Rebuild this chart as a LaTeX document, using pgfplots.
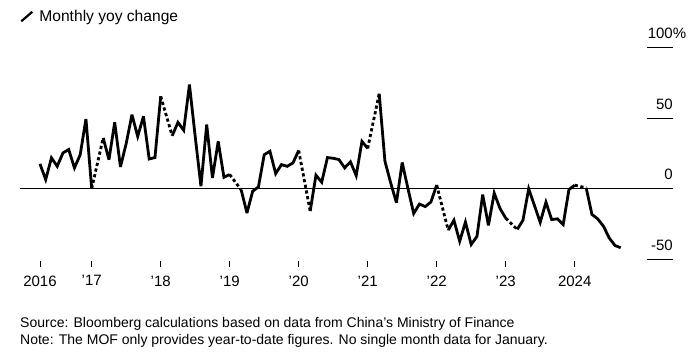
\documentclass[border=0pt]{standalone}
\usepackage{fontspec}
\setmainfont{Liberation Sans}
\usepackage{pgfplots}
\usepackage{pgfplotstable}
\pgfplotsset{compat=1.18}
\pgfplotstableread{
x y
3 17.5
4 6.4
5 21.8
6 15.8
7 25.3
8 27.7
9 14.7
10 24
11 49.4
12 0
13 nan
14 36
15 20.5
16 47
17 15.4
18 32
19 52.5
20 37
21 51.3
22 21
23 22
24 65.5
25 nan
26 37.5
27 47
28 41.4
29 73.8
30 37
31 1.6
32 45.4
33 7.6
34 33.5
35 8
36 10
37 nan
38 -1
39 -17.3
40 -1.9
41 1.2
42 24
43 26.5
44 10.6
45 17
46 15.8
47 18.2
48 27
49 nan
50 -16
51 9.5
52 4.5
53 22
54 21.5
55 20.6
56 14.7
57 19
58 9.2
59 33.5
60 28.5
61 nan
62 67.4
63 19.4
64 4
65 -10
66 18.5
67 0
68 -17.7
69 -11
70 -12.8
71 -9.5
72 2.5
73 nan
74 -29.5
75 -22.5
76 -37.4
77 -23.8
78 -39.7
79 -34
80 -4.3
81 -26.2
82 -3.2
83 -14
84 -21
85 nan
86 -29
87 -22.5
88 -0.2
89 -12
90 -24
91 -9.7
92 -22
93 -21.5
94 -25.5
95 -0.7
96 2.4
97 nan
98 0.5
99 -18.4
100 -21.5
101 -26.7
102 -35
103 -40.4
104 -42
}\solid
\pgfplotstableread{
x y
12 0
14 36
nan nan
24 65.5
26 37.5
nan nan
36 10
38 -1
nan nan
48 27
50 -16
nan nan
60 28.5
62 67.4
nan nan
72 2.5
74 -29.5
nan nan
84 -21
86 -29
nan nan
96 2.4
98 0.5
}\dashed
\begin{document}
\begin{tikzpicture}[x=1pt,y=1pt]
\useasboundingbox (0,0) rectangle (700,356);
\begin{axis}[
  at={(20pt,97pt)}, anchor=south west,
  scale only axis, width=653pt, height=211.3pt,
  xmin=-0.47, xmax=113.1, ymin=-50, ymax=100,
  axis line style={draw=none},
  xtick=\empty,
  ytick={-50,0,50,100},
  yticklabels={-50,0,50,100\rlap{\%}},
  ytick pos=right, yticklabel pos=right,
  tick align=inside, major tick length=26pt,
  y tick style={black, line width=0.9pt},
  yticklabel style={anchor=base east, inner sep=0pt, yshift=9pt, font=\fontsize{15}{18}\selectfont},
  extra y ticks={0}, extra y tick labels={},
  extra y tick style={grid=major, major grid style={black, line width=0.9pt}},
  clip=false,
]
\end{axis}
\begin{axis}[
  at={(20pt,97pt)}, anchor=south west,
  scale only axis, width=653pt, height=211.3pt,
  xmin=-0.47, xmax=113.1, ymin=-50, ymax=100,
  axis line style={draw=none},
  ytick=\empty,
  xtick={3,12,24,36,48,60,72,84,96},
  xticklabels={2016,'17,'18,'19,'20,'21,'22,'23,2024},
  xtick pos=bottom, tick align=outside, major tick length=6pt,
  x tick style={black, line width=0.9pt, yshift=-2pt},
  xticklabel style={font=\fontsize{15}{18}\selectfont, yshift=-7pt},
  unbounded coords=jump,
  clip=false,
  legend style={draw=none, fill=none, at={(0,1)}, anchor=north west, xshift=0pt, yshift=40pt, inner sep=0pt, font=\fontsize{15.6}{18}\selectfont, legend cell align=left, nodes={inner xsep=6pt}},
]
\addplot[black, line width=2.8pt, line join=miter, miter limit=4, legend image code/.code={\draw[black, line width=2.2pt] (1pt,-5pt) -- (12pt,4.5pt);}] table[x=x,y=y] {\solid};
\addlegendentry{Monthly yoy change}
\addplot[black, line width=2.8pt, dash pattern=on 3.2pt off 2.6pt, forget plot] table[x=x,y=y] {\dashed};
\end{axis}
\node[anchor=base west, inner sep=0pt, font=\fontsize{14}{16}\selectfont] at (20,29) {Source: Bloomberg calculations based on data from China's Ministry of Finance};
\node[anchor=base west, inner sep=0pt, font=\fontsize{14}{16}\selectfont] at (20,12) {Note: The MOF only provides year-to-date figures. No single month data for January.};
\end{tikzpicture}
\end{document}
